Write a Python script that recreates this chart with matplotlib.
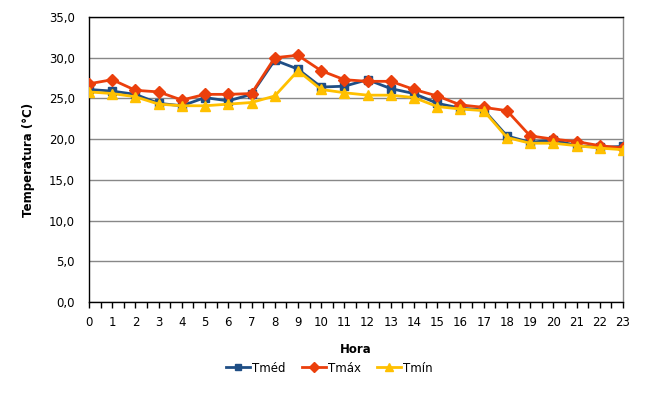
import numpy as np
import matplotlib.pyplot as plt
from matplotlib.ticker import MultipleLocator, FuncFormatter

horas = list(range(24))
t_med = [26.1, 25.9, 25.5, 24.4, 24.1, 25.1, 24.7, 25.5, 29.7, 28.6, 26.4, 26.5,
         27.3, 26.2, 25.6, 24.4, 23.8, 23.6, 20.4, 19.6, 19.9, 19.2, 19.0, 19.1]
t_max = [26.8, 27.3, 26.0, 25.8, 24.8, 25.5, 25.5, 25.6, 30.0, 30.3, 28.4, 27.3,
         27.1, 27.1, 26.1, 25.3, 24.2, 23.9, 23.5, 20.4, 20.0, 19.7, 19.2, 18.9]
t_min = [25.8, 25.6, 25.2, 24.3, 24.1, 24.1, 24.3, 24.5, 25.3, 28.4, 26.1, 25.7,
         25.4, 25.4, 25.1, 24.0, 23.7, 23.5, 20.2, 19.5, 19.5, 19.2, 18.9, 18.7]

fig = plt.figure(figsize=(6.59, 4.01), dpi=100)
ax = fig.add_axes([89 / 659, 1 - 302 / 401, (623 - 89) / 659, (302 - 17) / 401])

ax.plot(horas, t_med, color='#1F4E85', marker='s', markersize=6, linewidth=2, label='Tméd', zorder=3)
ax.plot(horas, t_max, color='#EB3F0C', marker='D', markersize=6, linewidth=2, label='Tmáx', zorder=4)
ax.plot(horas, t_min, color='#FFC000', marker='^', markersize=7, linewidth=2, label='Tmín', zorder=5)

ax.set_xlim(0, 23)
ax.set_ylim(0, 35)
ax.set_xticks(horas)
ax.xaxis.set_minor_locator(MultipleLocator(0.5))
ax.yaxis.set_major_locator(MultipleLocator(5))
ax.yaxis.set_major_formatter(FuncFormatter(lambda v, p: f'{v:.1f}'.replace('.', ',')))
ax.tick_params(axis='x', which='both', direction='out', length=4, width=1, labelsize=8.5, pad=6)
ax.tick_params(axis='y', length=0, labelsize=8.5, pad=10)
ax.grid(axis='y', color='#888888', linewidth=1)

for s in ['left', 'bottom', 'top']:
    ax.spines[s].set_color('black')
ax.spines['right'].set_color('#888888')
for s in ax.spines.values():
    s.set_linewidth(1)

ax.set_xlabel('Hora', fontsize=8.5, fontweight='bold', labelpad=10)
ax.set_ylabel('Temperatura (°C)', fontsize=8.5, fontweight='bold', labelpad=10)

fig.legend(loc='upper center', bbox_to_anchor=(0.5, 1 - 351 / 401), ncol=3, frameon=False,
           fontsize=8.5, handlelength=2.0, columnspacing=1.4, handletextpad=0.2, markerscale=0.8)

fig.savefig('out.png', dpi=100)
